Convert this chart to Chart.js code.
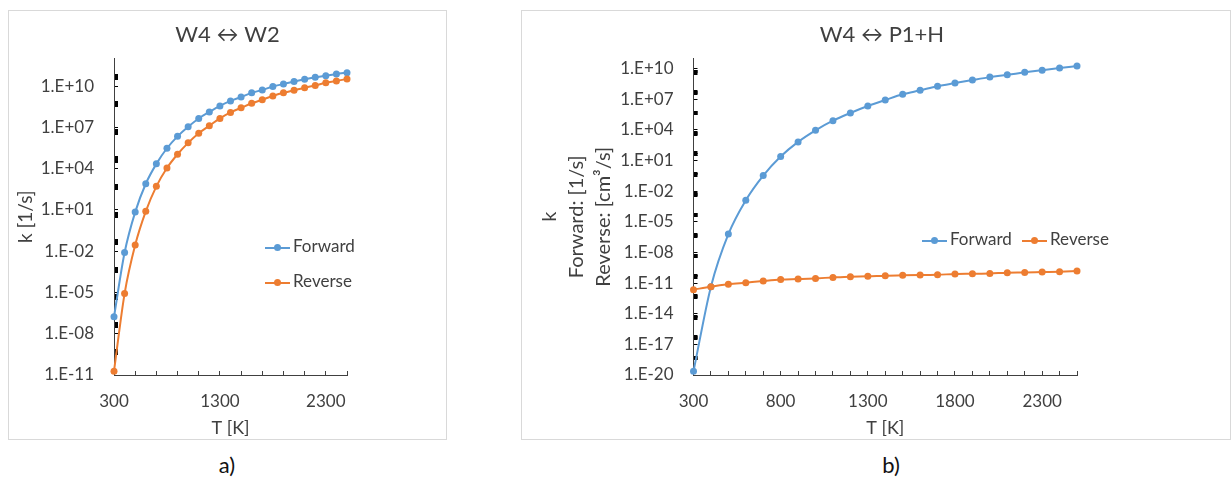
<!DOCTYPE html>
<html>
<head>
<meta charset="utf-8">
<script src="https://cdn.jsdelivr.net/npm/chart.js@4.4.0/dist/chart.umd.min.js"></script>
<style>
  body { margin: 0; background: #fff; font-family: Lato, sans-serif; }
  .panel { position: absolute; top: 10px; height: 428px; border: 1px solid #d9d9d9; }
  #panelA { left: 8px; width: 437px; }
  #panelB { left: 521px; width: 708px; }
  .item { position: absolute; height: 20px; line-height: 20px; font-size: 17px; color: #404040; white-space: nowrap; }
  .swatch { display: inline-block; position: relative; width: 25px; height: 2px; margin-right: 3px; vertical-align: middle; }
  .swatch::after { content: ''; position: absolute; left: 9px; top: -2.5px; width: 7px; height: 7px; border-radius: 50%; background: inherit; }
  .caption { position: absolute; top: 452px; width: 40px; text-align: center; font-size: 22px; line-height: 26px; color: #111; }
</style>
</head>
<body>
<div class="panel" id="panelA"><canvas id="chartA"></canvas></div>
<div class="panel" id="panelB"><canvas id="chartB"></canvas></div>

<div class="item" style="left:265px; top:236px;"><span class="swatch" style="background:#5B9BD5"></span>Forward</div>
<div class="item" style="left:265px; top:271px;"><span class="swatch" style="background:#ED7D31"></span>Reverse</div>
<div class="item" style="left:922px; top:229px;"><span class="swatch" style="background:#5B9BD5"></span>Forward</div>
<div class="item" style="left:1022px; top:229px;"><span class="swatch" style="background:#ED7D31"></span>Reverse</div>

<div class="caption" style="left:207px;">a)</div>
<div class="caption" style="left:871px;">b)</div>

<script>
// temperatures [K]
const temps = [300, 400, 500, 600, 700, 800, 900, 1000, 1100, 1200, 1300, 1400,
               1500, 1600, 1700, 1800, 1900, 2000, 2100, 2200, 2300, 2400, 2500];

// W4 <-> W2, k [1/s]
const forwardA = [1.7e-7, 7.9e-3, 6.9, 7.9e2, 2.2e4, 3.0e5, 2.2e6, 1.1e7, 4.4e7, 1.3e8, 3.6e8, 8.3e8,
                  1.6e9, 3.2e9, 5.2e9, 9.1e9, 1.4e10, 2.1e10, 3.1e10, 4.3e10, 5.6e10, 7.6e10, 9.3e10];
const reverseA = [1.9e-11, 8.3e-6, 2.8e-2, 7.8, 5.1e2, 1.1e4, 1.1e5, 7.4e5, 3.7e6, 1.3e7, 4.4e7, 1.2e8,
                  2.6e8, 5.6e8, 1.0e9, 1.9e9, 3.2e9, 4.9e9, 7.6e9, 1.1e10, 1.7e10, 2.3e10, 3.3e10];

// W4 <-> P1+H
const forwardB = [2.3e-20, 4.5e-12, 6.3e-7, 1.3e-3, 0.34, 25, 680, 9.3e3, 8.1e4, 4.6e5, 2.2e6, 8.5e6,
                  3.1e7, 7.6e7, 1.9e8, 3.9e8, 7.8e8, 1.5e9, 2.5e9, 4.4e9, 7.2e9, 1.15e10, 1.8e10];
const reverseB = [2.3e-12, 4.5e-12, 7.6e-12, 1.1e-11, 1.6e-11, 2.2e-11, 2.5e-11, 2.9e-11, 3.6e-11, 4.3e-11, 4.6e-11, 5.4e-11,
                  5.8e-11, 6.2e-11, 6.6e-11, 7.8e-11, 8.3e-11, 8.9e-11, 1.05e-10, 1.1e-10, 1.2e-10, 1.3e-10, 1.5e-10];

// axis ticks
const xTicksA = [300, 500, 700, 900, 1100, 1300, 1500, 1700, 1900, 2100, 2300, 2500];
const xLabelsA = ['300', '1300', '2300'];
const xTicksB = temps;
const xLabelsB = ['300', '800', '1300', '1800', '2300'];
const yLabelsA = ['1.E-11', '1.E-08', '1.E-05', '1.E-02', '1.E+01', '1.E+04', '1.E+07', '1.E+10'];
const yLabelsB = ['1.E-20', '1.E-17', '1.E-14', '1.E-11', '1.E-08', '1.E-05', '1.E-02', '1.E+01', '1.E+04', '1.E+07', '1.E+10'];

const BLUE = '#5B9BD5';
const ORANGE = '#ED7D31';
const TEXT = '#404040';

Chart.defaults.font.family = 'Lato';
Chart.defaults.color = TEXT;

function yTickValues(min, max, labels) {
    const vals = labels.map(Number);
    const lo = Math.round(Math.log10(min));
    const hi = Math.round(Math.log10(max));
    // clustered minor marks, like the excel log axis
    for (let n = lo + 1; n < hi; n += 2) {
        for (const k of [3, 3.5, 4, 4.5, 5, 5.5, 6, 7]) vals.push(k * Math.pow(10, n));
    }
    return vals.sort((a, b) => a - b);
}

function yLabelFor(labels, v) {
    const hit = labels.find(l => Math.abs(Math.log10(Number(l)) - Math.log10(v)) < 1e-6);
    return hit || '';
}

function series(label, ys, color, order) {
    return {
        label: label,
        data: temps.map((t, i) => ({ x: t, y: ys[i] })),
        borderColor: color,
        backgroundColor: color,
        borderWidth: 2,
        pointRadius: 3.5,
        pointBorderWidth: 0,
        pointBackgroundColor: color,
        cubicInterpolationMode: 'monotone',
        clip: false,
        order: order
    };
}

function makeChart(id, opt) {
    return new Chart(document.getElementById(id), {
        type: 'line',
        data: {
            datasets: [
                series('Forward', opt.forward, BLUE, 1),
                series('Reverse', opt.reverse, ORANGE, 0)
            ]
        },
        options: {
            responsive: true,
            maintainAspectRatio: false,
            animation: false,
            layout: { padding: { left: opt.padLeft, right: 0, top: 0, bottom: 0 } },
            plugins: {
                legend: { display: false },
                tooltip: { enabled: false },
                title: {
                    display: true,
                    text: opt.title,
                    color: TEXT,
                    font: { size: 22, weight: 'normal' },
                    padding: { top: 10.8, bottom: 10.3 }
                }
            },
            scales: {
                x: {
                    type: 'linear',
                    min: 300,
                    max: 2500,
                    afterBuildTicks: s => { s.ticks = opt.xTicks.map(v => ({ value: v })); },
                    afterFit: s => { s.height = 64; },
                    border: { color: TEXT, width: 1 },
                    grid: { drawOnChartArea: false, tickLength: -4, tickColor: TEXT },
                    ticks: {
                        autoSkip: false,
                        maxRotation: 0,
                        padding: 20.5,
                        color: TEXT,
                        font: { size: 17 },
                        callback: v => opt.xLabels.find(l => Number(l) === v) || ''
                    },
                    title: { display: true, text: 'T [K]', color: TEXT, font: { size: 18 }, padding: { top: 0, bottom: 0 } }
                },
                y: {
                    type: 'logarithmic',
                    min: opt.yMin,
                    max: opt.yMax,
                    afterBuildTicks: s => { s.ticks = yTickValues(opt.yMin, opt.yMax, opt.yLabels).map(v => ({ value: v })); },
                    afterFit: s => { s.width = opt.yWidth; },
                    border: { color: TEXT, width: 1 },
                    grid: { drawOnChartArea: false, tickLength: -4, tickColor: '#000' },
                    ticks: {
                        autoSkip: false,
                        padding: 24,
                        color: TEXT,
                        font: { size: 17 },
                        callback: v => yLabelFor(opt.yLabels, v)
                    },
                    title: {
                        display: true,
                        text: opt.yTitle,
                        color: TEXT,
                        font: { size: opt.yTitleSize, lineHeight: opt.yTitleLine },
                        padding: { top: opt.yTitlePad, bottom: 0 }
                    }
                },
                // empty box on the right so the title centres on the whole panel
                side: {
                    type: 'linear',
                    position: 'right',
                    display: true,
                    grid: { display: false },
                    border: { display: false },
                    ticks: { display: false },
                    afterFit: s => { s.width = opt.padRight; }
                }
            }
        }
    });
}

makeChart('chartA', {
    title: 'W4 \u2194 W2',
    forward: forwardA,
    reverse: reverseA,
    xTicks: xTicksA,
    xLabels: xLabelsA,
    yLabels: yLabelsA,
    yMin: 1e-11,
    yMax: 1e12,
    padLeft: 0,
    yWidth: 105,
    padRight: 99,
    yTitle: 'k [1/s]',
    yTitleSize: 19,
    yTitleLine: 1.2,
    yTitlePad: 5.6
});

makeChart('chartB', {
    title: 'W4 \u2194 P1+H',
    forward: forwardB,
    reverse: reverseB,
    xTicks: xTicksB,
    xLabels: xLabelsB,
    yLabels: yLabelsB,
    yMin: 1e-20,
    yMax: 1e11,
    padLeft: 12,
    yWidth: 159.5,
    padRight: 153,
    yTitle: ['k', 'Forward: [1/s]', 'Reverse: [cm\u00B3/s]'],
    yTitleSize: 20,
    yTitleLine: 1.35,
    yTitlePad: 2
});
</script>
</body>
</html>
